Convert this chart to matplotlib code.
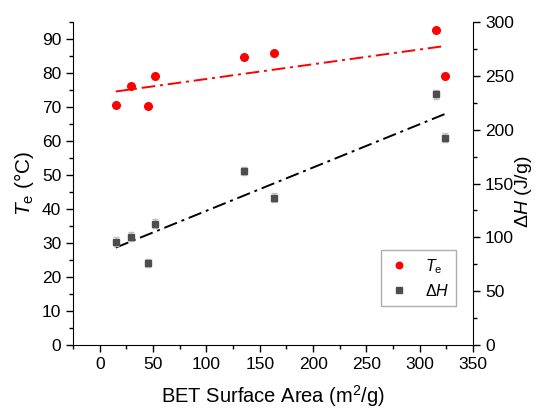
import matplotlib
matplotlib.use("Agg")
import matplotlib.pyplot as plt
import numpy as np
from matplotlib.ticker import MultipleLocator

plt.rcParams['font.family'] = ['Liberation Sans', 'DejaVu Sans']
plt.rcParams['mathtext.fontset'] = 'custom'
plt.rcParams['mathtext.rm'] = 'Liberation Sans'
plt.rcParams['mathtext.it'] = 'Liberation Sans:italic'

# BET surface area (m2/g)
bet = np.array([15, 29, 45, 51.6, 135.7, 163.5, 315, 324])
# eutectic temperature (deg C)
te = np.array([70.5, 76.3, 70.3, 79.0, 84.6, 85.8, 92.6, 79.1])
# enthalpy (J/g) and its error
dh = np.array([96, 100.6, 76, 112.7, 161.6, 137, 233, 192.6])
dh_err = np.array([4, 4, 4, 4, 4, 4, 4, 4])

fig = plt.figure(figsize=(5.37, 4.09), dpi=100)
ax = fig.add_axes([0.136, 0.1565, 0.745, 0.7895])
ax2 = ax.twinx()

# linear fits
xfit = np.array([bet.min(), bet.max()])
p1 = np.polyfit(bet, te, 1)
p2 = np.polyfit(bet, dh, 1)
ax.plot(xfit, np.polyval(p1, xfit), color='red', lw=1.4, dashes=(7, 2.5, 1.5, 2.5))
ax2.plot(xfit, np.polyval(p2, xfit), color='black', lw=1.4, dashes=(7, 2.5, 1.5, 2.5))

h1, = ax.plot(bet, te, 'o', color='red', ms=5.5, label=r'$T_\mathrm{e}$')
ax2.errorbar(bet, dh, yerr=dh_err, fmt='none', ecolor='#c0c0c0', elinewidth=1, capsize=2.5)
h2, = ax2.plot(bet, dh, 's', color='#4d4d4d', ms=5, label=r'$\Delta H$')

ax.set_xlim(-25, 350)
ax.set_ylim(0, 95)
ax2.set_ylim(0, 300)

ax.xaxis.set_major_locator(MultipleLocator(50))
ax.xaxis.set_minor_locator(MultipleLocator(25))
ax.yaxis.set_major_locator(MultipleLocator(10))
ax.yaxis.set_minor_locator(MultipleLocator(5))
ax2.yaxis.set_major_locator(MultipleLocator(50))
ax2.yaxis.set_minor_locator(MultipleLocator(25))

for a in (ax, ax2):
    a.spines['top'].set_visible(False)
    a.tick_params(which='major', length=5, width=1, labelsize=12.5, direction='out')
    a.tick_params(which='minor', length=3, width=1, direction='out')
ax.spines['right'].set_visible(False)
ax2.spines['left'].set_visible(False)
ax2.spines['bottom'].set_visible(False)

ax.set_xlabel(r'BET Surface Area (m$^2$/g)', fontsize=14.5, labelpad=8)
ax.set_ylabel(r'$T_\mathrm{e}$ (°C)', fontsize=15, labelpad=4)
# right axis label, placed by hand so it stays inside the figure
fig.text(0.975, 0.53, r'$\Delta H$ (J/g)', fontsize=14, rotation=90,
         ha='center', va='center')

leg = ax.legend(handles=[h1, h2], loc='lower left', bbox_to_anchor=(0.75, 0.096),
                fontsize=11.5, frameon=True, fancybox=False, edgecolor='#999999',
                handletextpad=0.9, borderpad=0.45, handlelength=1.4, labelspacing=0.45,
                markerscale=0.85)
leg.get_frame().set_linewidth(1)

fig.savefig('out.png', dpi=100)
